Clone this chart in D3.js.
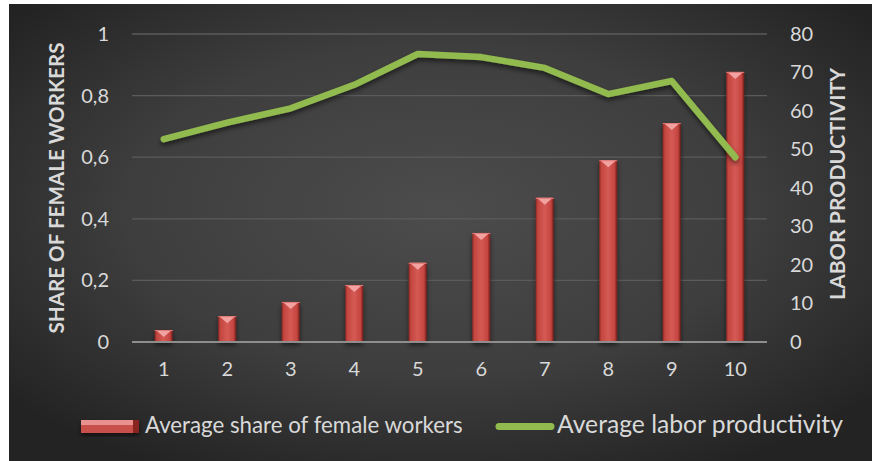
<!DOCTYPE html>
<html><head><meta charset="utf-8">
<script src="https://cdn.jsdelivr.net/npm/d3@7"></script>
<style>html,body{margin:0;padding:0;background:#fff;overflow:hidden}svg{display:block}</style>
</head><body>
<svg id="c" width="872" height="461"></svg>
<script>
const categories = ["1","2","3","4","5","6","7","8","9","10"];
const femaleShare = [0.039,0.084,0.13,0.185,0.257,0.354,0.468,0.59,0.711,0.877];
const laborProd = [52.7,57.0,60.7,66.8,74.8,74.0,71.2,64.4,67.8,48.0];
const leftTicks = [0,0.2,0.4,0.6,0.8,1];
const leftTickLabels = ["0","0,2","0,4","0,6","0,8","1"];
const rightTicks = [0,10,20,30,40,50,60,70,80];
const seriesNames = ["Average share of female workers","Average labor productivity"];
const axisTitles = ["SHARE OF FEMALE WORKERS","LABOR PRODUCTIVITY"];

const svg = d3.select("#c");
const defs = svg.append("defs");
const FONT = "Lato, 'Open Sans', sans-serif";
const TXT = "#d9d9d9";

// background
const rg = defs.append("radialGradient").attr("id","bg").attr("cx","50%").attr("cy","45%").attr("r","65%");
rg.append("stop").attr("offset","0%").attr("stop-color","#4c4c4c");
rg.append("stop").attr("offset","55%").attr("stop-color","#3e3e3e");
rg.append("stop").attr("offset","100%").attr("stop-color","#232323");
svg.append("rect").attr("x",9).attr("y",4).attr("width",863).attr("height",457).attr("fill","url(#bg)");

// gradients
const bg = defs.append("linearGradient").attr("id","barG").attr("x1","0").attr("x2","1").attr("y1","0").attr("y2","0");
[["0%","#8e2926"],["12%","#c4463f"],["50%","#d55a55"],["85%","#c4443f"],["100%","#6e1a18"]].forEach(s=>bg.append("stop").attr("offset",s[0]).attr("stop-color",s[1]));
const f = defs.append("filter").attr("id","sh").attr("x","-30%").attr("y","-30%").attr("width","160%").attr("height","160%");
f.append("feDropShadow").attr("dx",0).attr("dy",3).attr("stdDeviation",2.5).attr("flood-color","#000").attr("flood-opacity",0.55);

const x = d3.scaleBand().domain(categories).range([132,767]);
const yL = d3.scaleLinear().domain([0,1]).range([342,34]);
const yR = d3.scaleLinear().domain([0,80]).range([342,34]);

// gridlines
svg.append("g").selectAll("line").data(leftTicks.filter(d=>d>0)).join("line")
  .attr("x1",132).attr("x2",767).attr("y1",d=>yL(d)).attr("y2",d=>yL(d))
  .attr("stroke","#5b5b5b").attr("stroke-width",1.3);

// left axis labels
const gL = svg.append("g").attr("transform","translate(109,0)")
  .call(d3.axisLeft(yL).tickValues(leftTicks).tickFormat((d,i)=>leftTickLabels[i]).tickSize(0).tickPadding(0));
gL.select(".domain").remove();
gL.selectAll("text").attr("fill",TXT).style("font-family",FONT).style("font-size","20px");

// right axis labels
const gR = svg.append("g").attr("transform","translate(790,0)")
  .call(d3.axisRight(yR).tickValues(rightTicks).tickSize(0).tickPadding(0));
gR.select(".domain").remove();
gR.selectAll("text").attr("fill",TXT).style("font-family",FONT).style("font-size","20px");

// x axis labels
const gX = svg.append("g").attr("transform","translate(0,362)")
  .call(d3.axisBottom(x).tickSize(0).tickPadding(0));
gX.select(".domain").remove();
gX.selectAll("text").attr("fill",TXT).style("font-family",FONT).style("font-size","20px");

// bars
const bw = 18;
const bars = svg.append("g").attr("filter","url(#sh)").selectAll("g").data(categories).join("g");
bars.append("rect")
  .attr("x",d=>x(d)+x.bandwidth()/2-bw/2).attr("y",(d,i)=>yL(femaleShare[i]))
  .attr("width",bw).attr("height",(d,i)=>yL(0)-yL(femaleShare[i])).attr("fill","url(#barG)");
bars.append("polygon").attr("points",(d,i)=>{
  const x0=x(d)+x.bandwidth()/2-bw/2, y0=yL(femaleShare[i]);
  return `${x0+1},${y0} ${x0+bw-1},${y0} ${x0+bw/2},${y0+7}`;
}).attr("fill","#f2a3a1");
bars.append("line").attr("x1",d=>x(d)+x.bandwidth()/2-bw/2).attr("x2",d=>x(d)+x.bandwidth()/2+bw/2)
  .attr("y1",(d,i)=>yL(femaleShare[i])+0.5).attr("y2",(d,i)=>yL(femaleShare[i])+0.5)
  .attr("stroke","#e07a77").attr("stroke-width",1);

// zero axis line
svg.append("line").attr("x1",132).attr("x2",767).attr("y1",yL(0)).attr("y2",yL(0))
  .attr("stroke","#8e8e8e").attr("stroke-width",2.2);

// line
const line = d3.line().x((d,i)=>x(categories[i])+x.bandwidth()/2).y(d=>yR(d));
svg.append("path").datum(laborProd).attr("d",line).attr("fill","none")
  .attr("stroke","#92bb4f").attr("stroke-width",6.5).attr("stroke-linecap","round").attr("stroke-linejoin","round")
  .attr("filter","url(#sh)");

// fit helper
function fit(sel, target){
  const n = sel.node(); const w = n.getComputedTextLength();
  const fs = parseFloat(sel.style("font-size"));
  sel.style("font-size",(fs*target/w)+"px");
}

// axis titles
const t1 = svg.append("text").attr("transform","translate(64,188) rotate(-90)").attr("text-anchor","middle")
  .attr("fill",TXT).style("font-family",FONT).style("font-weight","bold").style("font-size","19px").text(axisTitles[0]);
fit(t1,291);
const t2 = svg.append("text").attr("transform","translate(845,184) rotate(-90)").attr("text-anchor","middle")
  .attr("fill",TXT).style("font-family",FONT).style("font-weight","bold").style("font-size","19px").text(axisTitles[1]);
fit(t2,232);

// legend
const lg = svg.append("g");
lg.append("rect").attr("x",81).attr("y",420).attr("width",58).attr("height",13).attr("fill","#c9504b").attr("filter","url(#sh)");
lg.append("rect").attr("x",81).attr("y",420).attr("width",58).attr("height",5).attr("fill","#e8918e");
lg.append("polygon").attr("points","133,420 139,420 139,433 133,433").attr("fill","#8a2421");
const l1 = lg.append("text").attr("x",145).attr("y",433).attr("fill",TXT).style("font-family",FONT).style("font-size","20px").text(seriesNames[0]);
fit(l1,318);
lg.append("line").attr("x1",499).attr("x2",551).attr("y1",426.5).attr("y2",426.5).attr("stroke","#92bb4f")
  .attr("stroke-width",7).attr("stroke-linecap","round");
const l2 = lg.append("text").attr("x",557).attr("y",433).attr("fill",TXT).style("font-family",FONT).style("font-size","20px").text(seriesNames[1]);
fit(l2,286);
</script>
</body></html>
